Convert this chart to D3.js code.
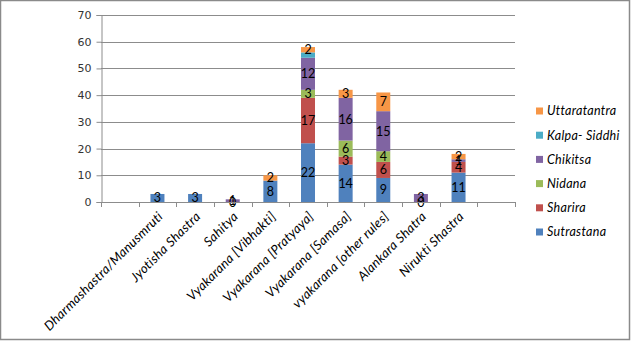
<!DOCTYPE html>
<html>
<head>
<meta charset="utf-8">
<script src="https://cdn.jsdelivr.net/npm/d3@7"></script>
<style>
  html, body { margin: 0; padding: 0; background: #fff; }
  svg { display: block; }
</style>
</head>
<body>
<svg id="chart" width="631" height="341"></svg>
<script>
// Categories (blank slots at both ends of the axis)
const categories = ["", "Dharmashastra/Manusmruti", "Jyotisha Shastra", "Sahitya",
  "Vyakarana [Vibhakti]", "Vyakarana [Pratyaya]", "Vyakarana [Samasa]",
  "vyakarana [other rules]", "Alankara Shatra", "Nirukti Shastra", ""];

const seriesNames = ["Sutrastana", "Sharira", "Nidana", "Chikitsa", "Kalpa- Siddhi", "Uttaratantra"];
const seriesColors = ["#4F81BD", "#C0504D", "#9BBB59", "#8064A2", "#4BACC6", "#F79646"];

const sutrastana   = [null, 3, 3, 0, 8, 22, 14, 9, 0, 11, null];
const sharira      = [null, null, null, null, null, 17, 3, 6, null, 4, null];
const nidana       = [null, null, null, null, null, 3, 6, 4, null, null, null];
const chikitsa     = [null, null, null, 1, null, 12, 16, 15, 3, 1, null];
const kalpaSiddhi  = [null, null, null, null, null, 2, null, null, null, null, null];
const uttaratantra = [null, null, null, null, 2, 2, 3, 7, null, 2, null];

const yTicks = [0, 10, 20, 30, 40, 50, 60, 70];

const seriesValues = [sutrastana, sharira, nidana, chikitsa, kalpaSiddhi, uttaratantra];
const showLabels = [true, true, true, true, false, true];

const svg = d3.select("#chart");
const W = 631, H = 341;

// outer frame
svg.append("rect").attr("x", 0.5).attr("y", 0.5).attr("width", W - 2).attr("height", H - 2)
  .attr("fill", "#fff").attr("stroke", "#8a8a8a").attr("stroke-width", 1.5);

const plot = { left: 101, right: 515, top: 15, bottom: 202 };

const y = d3.scaleLinear().domain([0, 70]).range([plot.bottom, plot.top]);
const step = (plot.right - plot.left) / categories.length;

// gridlines
svg.append("g").selectAll("line").data(yTicks.filter(d => d > 0)).join("line")
  .attr("x1", plot.left).attr("x2", plot.right)
  .attr("y1", d => Math.round(y(d)) + 0.5).attr("y2", d => Math.round(y(d)) + 0.5)
  .attr("stroke", "#8c8c8c").attr("stroke-width", 1);

// y axis
const yAxis = svg.append("g").attr("transform", `translate(${plot.left + 0.5},0)`)
  .call(d3.axisLeft(y).tickValues(yTicks).tickSize(5).tickPadding(5));
yAxis.select(".domain").attr("stroke", "#8c8c8c");
yAxis.selectAll(".tick line").attr("stroke", "#8c8c8c");
yAxis.selectAll(".tick text").attr("font-family", "DejaVu Sans, Verdana, sans-serif")
  .attr("font-size", 11).attr("fill", "#333");

// stacked data
const stackRows = categories.map((c, i) => {
  const row = { i };
  seriesNames.forEach((s, k) => { row[s] = seriesValues[k][i] || 0; });
  return row;
});
const stacked = d3.stack().keys(seriesNames)(stackRows);

stacked.forEach((layer, k) => {
  const g = svg.append("g");
  layer.forEach((seg, i) => {
    const v = seriesValues[k][i];
    if (v === null || v === undefined) return;
    const bx = plot.left + step * i + step / 2 - 7;
    if (v > 0) {
      g.append("rect")
        .attr("x", bx).attr("width", 14)
        .attr("y", y(seg[1])).attr("height", y(seg[0]) - y(seg[1]))
        .attr("fill", seriesColors[k]);
    }
  });
});

// data labels
stacked.forEach((layer, k) => {
  if (!showLabels[k]) return;
  layer.forEach((seg, i) => {
    const v = seriesValues[k][i];
    if (v === null || v === undefined) return;
    const cx = plot.left + step * i + step / 2;
    svg.append("text")
      .attr("x", cx).attr("y", (y(seg[0]) + y(seg[1])) / 2)
      .attr("dy", "0.36em").attr("text-anchor", "middle")
      .attr("font-family", "Lato, 'Open Sans', sans-serif").attr("font-size", 12.5)
      .attr("fill", "#000").text(v);
  });
});

// x axis line and ticks at slot boundaries
svg.append("line").attr("x1", plot.left).attr("x2", plot.right)
  .attr("y1", plot.bottom + 0.5).attr("y2", plot.bottom + 0.5).attr("stroke", "#8c8c8c");
svg.append("g").selectAll("line").data(d3.range(categories.length + 1)).join("line")
  .attr("x1", d => Math.round(plot.left + step * d) + 0.5)
  .attr("x2", d => Math.round(plot.left + step * d) + 0.5)
  .attr("y1", plot.bottom).attr("y2", plot.bottom + 5).attr("stroke", "#8c8c8c");

// rotated category labels
svg.append("g").selectAll("text").data(categories.map((c, i) => ({ c, i })).filter(d => d.c)).join("text")
  .attr("transform", d => `translate(${plot.left + step * d.i + step / 2 + 3},${plot.bottom + 12}) rotate(-45)`)
  .attr("text-anchor", "end").attr("dy", "0.35em")
  .attr("font-family", "Lato, 'Open Sans', sans-serif").attr("font-style", "italic")
  .attr("font-size", 13).attr("letter-spacing", 0.3).attr("fill", "#000").text(d => d.c);

// legend (top entry is the last series)
const legendOrder = d3.range(seriesNames.length).reverse();
const legend = svg.append("g").selectAll("g").data(legendOrder).join("g")
  .attr("transform", (d, j) => `translate(536,${111 + j * 24.2})`);
legend.append("rect").attr("x", 0).attr("y", -3.5).attr("width", 7).attr("height", 7)
  .attr("fill", d => seriesColors[d]);
legend.append("text").attr("x", 11).attr("dy", "0.35em")
  .attr("font-family", "Lato, 'Open Sans', sans-serif").attr("font-style", "italic")
  .attr("font-size", 12.5).attr("letter-spacing", 0.3).attr("fill", "#000").text(d => seriesNames[d]);
</script>
</body>
</html>
